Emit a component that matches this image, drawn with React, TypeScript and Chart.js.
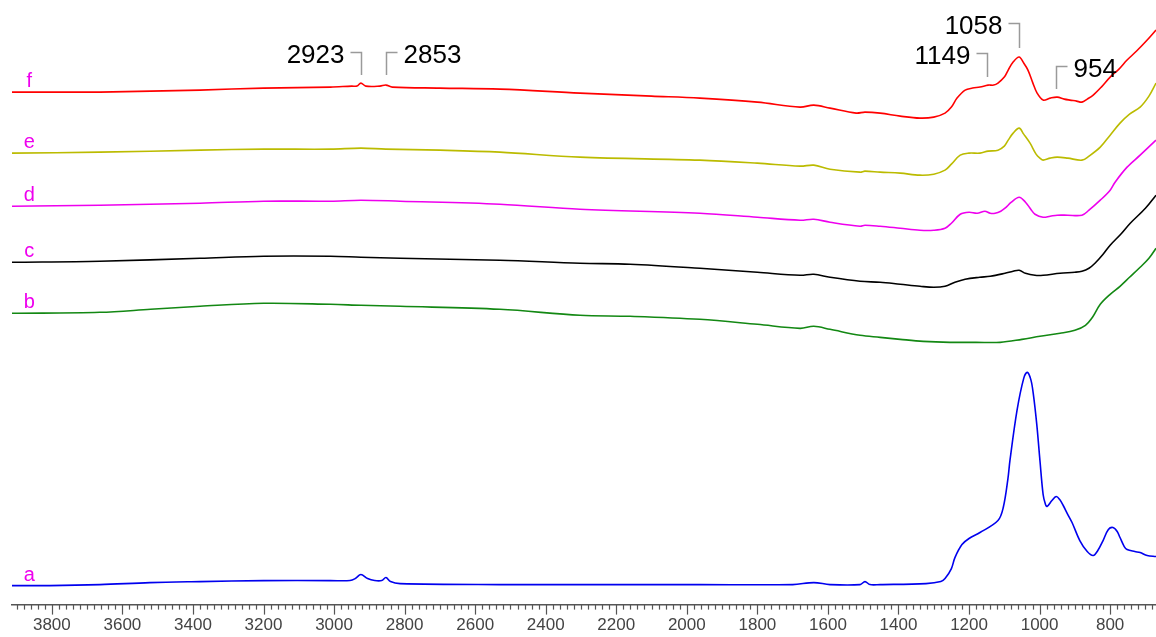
import React, { useEffect, useRef } from 'react';
import { Chart, registerables } from 'chart.js';

Chart.register(...registerables);

// ---------- data ----------
const xMin = 670;
const xMax = 3913;
const tickValues = [3800, 3600, 3400, 3200, 3000, 2800, 2600, 2400, 2200, 2000, 1800, 1600, 1400, 1200, 1000, 800];

const seriesNames = ['a', 'b', 'c', 'd', 'e', 'f'];
const seriesColors = ['#0000EE', '#138813', '#000000', '#EE00EE', '#BBBB00', '#FF0000'];

const waveA = [3913, 3806, 3664, 3522, 3380, 3200, 3010, 2955, 2940, 2924, 2905, 2885, 2865, 2853, 2840, 2813, 2530, 2246, 1963, 1700, 1640, 1594, 1509, 1495, 1481, 1452, 1322, 1280, 1268, 1250, 1240, 1220, 1200, 1169, 1118, 1103, 1090, 1084, 1064, 1045, 1035, 1025, 1018, 1008, 999, 990, 984, 979, 965, 953, 943, 933, 920, 908, 886, 865, 848, 835, 820, 805, 792, 780, 772, 760, 752, 730, 715, 695, 670];
const valuesA = [19, 19, 20, 22, 23, 24, 24, 24, 26, 30, 26, 24, 24, 27, 23, 21, 20, 20, 20, 20, 22, 20, 20, 23, 20, 20, 21, 23, 26, 36, 47, 60, 66, 72, 84, 97, 125, 144, 194, 226, 232, 225, 211, 180, 144, 110, 101, 98, 104, 108, 105, 99, 90, 82, 64, 53, 49, 54, 64, 75, 77, 73, 67, 58, 55, 53, 52, 49, 48];

const waveB = [3913, 3664, 3520, 3380, 3200, 3010, 2924, 2813, 2530, 2303, 2161, 1963, 1800, 1679, 1640, 1594, 1509, 1452, 1395, 1330, 1254, 1180, 1112, 1050, 999, 942, 900, 870, 850, 828, 800, 772, 745, 715, 690, 670];
const valuesB = [291, 292, 295, 298, 301, 300, 299, 298, 295, 289, 288, 285, 280, 276, 278, 275, 269, 267, 265, 263, 262, 262, 262, 265, 268, 271, 274, 279, 287, 300, 310, 318, 327, 337, 346, 356];

const waveC = [3913, 3664, 3380, 3200, 3010, 2924, 2813, 2530, 2303, 2161, 1963, 1800, 1679, 1640, 1594, 1509, 1452, 1395, 1339, 1300, 1268, 1240, 1211, 1170, 1140, 1098, 1075, 1058, 1040, 1013, 990, 942, 900, 880, 860, 843, 820, 800, 770, 743, 700, 670];
const valuesC = [342, 343, 346, 348, 348, 347, 346, 344, 341, 340, 336, 332, 329, 330, 327, 323, 322, 320, 318, 317, 318, 322, 325, 327, 328, 331, 333, 334, 331, 329, 329, 331, 332, 333, 336, 341, 350, 359, 370, 381, 396, 409];

const waveD = [3913, 3664, 3380, 3200, 3010, 2924, 2813, 2530, 2303, 1963, 1800, 1679, 1640, 1594, 1509, 1495, 1452, 1395, 1339, 1300, 1268, 1250, 1225, 1200, 1177, 1155, 1140, 1126, 1110, 1098, 1080, 1058, 1040, 1025, 1013, 990, 970, 950, 920, 880, 860, 828, 800, 786, 752, 715, 670];
const valuesD = [398, 399, 401, 403, 403, 404, 403, 400, 395, 391, 387, 384, 385, 382, 378, 379, 378, 376, 374, 374, 376, 381, 390, 392, 391, 393, 391, 391, 393, 396, 402, 407, 402, 395, 390, 387, 388, 389, 389, 389, 394, 404, 414, 422, 437, 449, 464];

const waveE = [3913, 3664, 3380, 3200, 3010, 2924, 2853, 2700, 2530, 2303, 1963, 1800, 1679, 1640, 1594, 1509, 1495, 1452, 1395, 1339, 1300, 1268, 1250, 1225, 1200, 1169, 1146, 1118, 1100, 1089, 1075, 1058, 1045, 1027, 1010, 999, 990, 970, 950, 920, 880, 860, 828, 800, 772, 745, 715, 690, 670];
const valuesE = [451, 452, 454, 455, 455, 456, 455, 454, 452, 447, 444, 441, 438, 439, 435, 432, 433, 432, 431, 429, 430, 434, 440, 449, 451, 451, 453, 454, 458, 464, 471, 476, 470, 461, 450, 446, 444, 446, 447, 446, 444, 448, 457, 469, 481, 490, 497, 508, 521];

const waveF = [3913, 3780, 3664, 3520, 3380, 3200, 3010, 2950, 2935, 2924, 2910, 2870, 2853, 2835, 2700, 2530, 2303, 2100, 1963, 1800, 1679, 1640, 1594, 1520, 1495, 1452, 1395, 1339, 1300, 1268, 1250, 1234, 1211, 1190, 1169, 1146, 1130, 1118, 1100, 1089, 1075, 1058, 1045, 1033, 1020, 1007, 990, 970, 950, 930, 914, 895, 880, 865, 848, 825, 800, 775, 752, 725, 695, 670];
const valuesF = [512, 512, 512, 513, 514, 516, 517, 518, 518, 521, 518, 518, 519, 517, 516, 515, 511, 508, 506, 502, 497, 499, 496, 491, 492, 491, 488, 486, 487, 491, 497, 506, 514, 516, 517, 519, 519, 521, 527, 534, 542, 547, 541, 534, 522, 511, 504, 506, 507, 505, 504, 503, 502, 505, 509, 517, 527, 535, 544, 553, 564, 574];

const peakLabels = ['2923', '2853', '1149', '1058', '954'];
const peakWavenumbers = [2923, 2853, 1149, 1058, 954];

// ---------- layout of the call-outs (kept apart from the data) ----------
const calloutSide = ['left', 'right', 'left', 'left', 'right'];
const calloutTop = [552, 552, 551, 581, 538];
const calloutBottom = [529, 529, 527, 556, 515];

const waves = [waveA, waveB, waveC, waveD, waveE, waveF];
const values = [valuesA, valuesB, valuesC, valuesD, valuesE, valuesF];

const FONT = "'Liberation Sans', Arial, Helvetica, sans-serif";

const minorTickPlugin = {
  id: 'minorTicks',
  afterDraw(chart: any) {
    const xs = chart.scales.x;
    const ctx = chart.ctx;
    const y0 = chart.chartArea.bottom;
    ctx.save();
    ctx.strokeStyle = '#555555';
    ctx.lineWidth = 1.2;
    for (let v = 680; v <= 3900; v += 20) {
      const px = Math.round(xs.getPixelForValue(v)) + 0.5;
      const len = v % 200 === 0 ? 10 : 5;
      ctx.beginPath();
      ctx.moveTo(px, y0);
      ctx.lineTo(px, y0 + len);
      ctx.stroke();
    }
    ctx.restore();
  },
};

const seriesLabelPlugin = {
  id: 'seriesLabels',
  afterDatasetsDraw(chart: any) {
    const xs = chart.scales.x;
    const ys = chart.scales.y;
    const ctx = chart.ctx;
    ctx.save();
    ctx.fillStyle = '#EE00EE';
    ctx.font = `20px ${FONT}`;
    ctx.textAlign = 'center';
    ctx.textBaseline = 'alphabetic';
    chart.data.datasets.forEach((ds: any) => {
      const first = ds.data[0];
      ctx.fillText(ds.label, xs.getPixelForValue(3864), ys.getPixelForValue(first.y + 5));
    });
    ctx.restore();
  },
};

const calloutPlugin = {
  id: 'callouts',
  afterDatasetsDraw(chart: any) {
    const xs = chart.scales.x;
    const ys = chart.scales.y;
    const ctx = chart.ctx;
    ctx.save();
    peakWavenumbers.forEach((w, i) => {
      const px = Math.round(xs.getPixelForValue(w)) + 0.5;
      const top = Math.round(ys.getPixelForValue(calloutTop[i])) + 0.5;
      const bottom = ys.getPixelForValue(calloutBottom[i]);
      const dir = calloutSide[i] === 'left' ? -1 : 1;
      const armEnd = px + dir * 11;
      ctx.strokeStyle = '#9a9a9a';
      ctx.lineWidth = 1.5;
      ctx.beginPath();
      ctx.moveTo(armEnd, top);
      ctx.lineTo(px, top);
      ctx.lineTo(px, bottom);
      ctx.stroke();
      ctx.fillStyle = '#000000';
      ctx.font = `26px ${FONT}`;
      ctx.textBaseline = 'alphabetic';
      ctx.textAlign = dir < 0 ? 'right' : 'left';
      ctx.fillText(peakLabels[i], armEnd + dir * 6, top + 10.5);
    });
    ctx.restore();
  },
};

export default function App() {
  const canvasRef = useRef<HTMLCanvasElement | null>(null);

  useEffect(() => {
    if (!canvasRef.current) return;
    const datasets = seriesNames.map((name, i) => ({
      label: name,
      data: waves[i].map((w, j) => ({ x: w, y: values[i][j] })),
      borderColor: seriesColors[i],
      backgroundColor: seriesColors[i],
      borderWidth: 1.6,
      pointRadius: 0,
      fill: false,
      tension: 0.35,
    }));

    const chart = new Chart(canvasRef.current, {
      type: 'line',
      data: { datasets },
      options: {
        responsive: false,
        animation: false,
        devicePixelRatio: 1,
        layout: { padding: { left: 12, right: 0, top: 0, bottom: 0 } },
        plugins: {
          legend: { display: false },
          tooltip: { enabled: false },
        },
        scales: {
          x: {
            type: 'linear',
            reverse: true,
            min: xMin,
            max: xMax,
            afterBuildTicks: (scale: any) => {
              scale.ticks = tickValues.map((v) => ({ value: v }));
            },
            ticks: {
              autoSkip: false,
              maxRotation: 0,
              padding: 1,
              color: '#444444',
              font: { family: FONT, size: 17 },
              callback: (v: any) => String(v),
            },
            grid: {
              display: true,
              drawOnChartArea: false,
              drawTicks: true,
              tickLength: 10,
              color: 'rgba(0,0,0,0)',
              tickColor: 'rgba(0,0,0,0)',
            },
            border: { display: true, color: '#555555', width: 1.5 },
          },
          y: {
            type: 'linear',
            display: false,
            min: 0,
            max: 604,
          },
        },
      },
      plugins: [minorTickPlugin, seriesLabelPlugin, calloutPlugin],
    });
    return () => chart.destroy();
  }, []);

  return (
    <div style={{ position: 'absolute', left: 0, top: 0, width: 1156, height: 637, background: '#ffffff' }}>
      <canvas ref={canvasRef} width={1156} height={637} style={{ display: 'block' }} />
    </div>
  );
}
